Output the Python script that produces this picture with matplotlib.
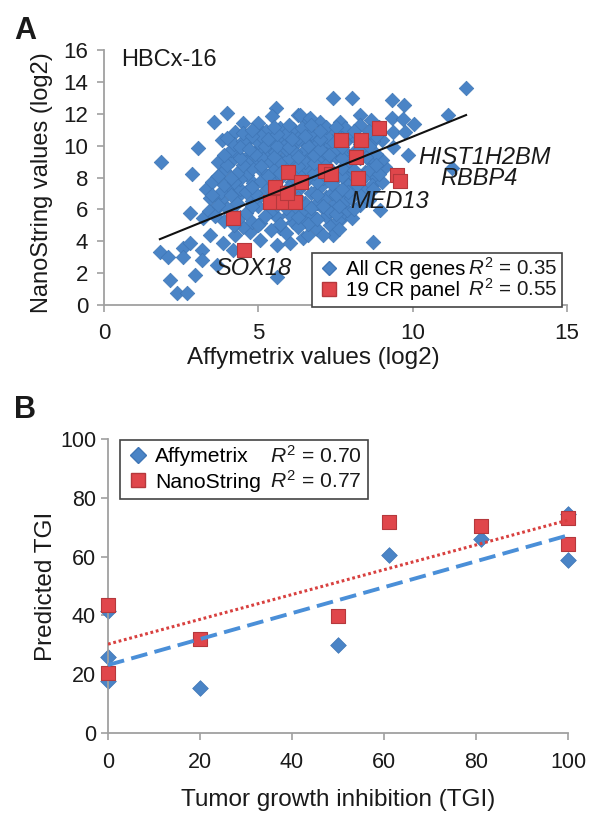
import numpy as np
import matplotlib
matplotlib.use('Agg')
import matplotlib.pyplot as plt
from matplotlib.lines import Line2D
from matplotlib.patches import Rectangle
from matplotlib.transforms import IdentityTransform

plt.rcParams['font.family'] = ['Liberation Sans', 'DejaVu Sans']
plt.rcParams['mathtext.fontset'] = 'custom'
plt.rcParams['mathtext.rm'] = 'Liberation Sans'
plt.rcParams['mathtext.it'] = 'Liberation Sans:italic'

# ---------------- Panel A data ----------------
# All CR genes (Affymetrix log2, NanoString log2) - scattered outer points
cr_affy_outer = [3.99, 5.57, 3.56, 4.49, 4.95, 5.25, 6.29, 5.43, 5.70, 6.13,
                 4.24, 3.81, 4.73, 5.65, 3.05, 4.14, 4.35, 4.73, 5.27, 5.54,
                 5.92, 6.51, 1.85, 2.84, 3.65, 4.08, 4.62, 4.95, 5.16, 5.38,
                 6.24, 6.46, 4.84, 6.35, 6.61, 7.00, 7.65, 6.35,
                 11.73, 7.43, 8.02, 9.34, 9.72, 11.15, 6.67, 8.29, 8.65, 9.32,
                 9.70, 10.05, 9.37, 9.75, 9.00, 9.37, 9.86, 8.45, 6.83, 7.16,
                 7.81, 6.73, 7.27, 8.67, 9.10, 8.45, 7.81, 8.78, 6.94, 8.67,
                 9.00, 11.26,
                 3.43, 4.08, 2.79, 3.22, 3.65, 1.81, 2.08, 2.57, 2.79, 3.16,
                 2.57, 3.16, 3.43, 3.86, 3.65, 2.14, 2.95, 2.36, 2.68, 5.59,
                 4.24, 4.73, 5.05, 5.59, 6.03, 6.46, 4.19, 5.05, 5.70, 6.13,
                 6.46,
                 6.62, 7.32, 7.43, 7.70, 7.05, 6.73, 7.59, 8.13, 8.72, 8.02,
                 7.54, 7.70, 7.48, 7.86, 7.59, 8.94]
cr_nano_outer = [12.06, 12.34, 11.50, 11.44, 11.19, 10.92, 11.92, 11.88, 11.09, 11.04,
                 10.83, 10.35, 10.46, 10.46, 9.83, 9.10, 9.41, 9.45, 9.72, 9.62,
                 9.41, 10.24, 8.95, 8.20, 8.05, 7.53, 8.16, 8.99, 8.36, 8.99,
                 8.99, 9.62, 7.63, 8.16, 11.61, 11.50, 11.50, 11.92,
                 13.59, 13.00, 13.00, 12.86, 12.55, 11.92, 11.71, 11.92, 11.61, 11.71,
                 11.67, 11.34, 10.87, 10.87, 10.35, 9.93, 9.41, 9.62, 10.46, 10.04,
                 9.62, 9.41, 9.20, 8.99, 8.68, 8.36, 7.95, 7.95, 8.16, 7.53,
                 7.74, 8.58,
                 6.69, 7.11, 5.75, 5.44, 6.07, 3.34, 3.03, 3.56, 3.87, 3.45,
                 3.03, 2.82, 4.39, 3.87, 2.51, 1.57, 1.88, 0.73, 0.73, 1.78,
                 4.39, 4.60, 4.08, 3.76, 3.87, 4.18, 3.45, 5.13, 4.81, 5.23,
                 5.44,
                 4.39, 5.02, 4.39, 5.44, 6.17, 5.65, 6.27, 7.11, 3.97, 5.44,
                 8.05, 7.21, 6.38, 5.96, 5.33, 5.96]
# All CR genes - dense core points (first set)
cr_affy_core = [4.5, 5.4, 5.9, 6.9, 7.1,
                3.9, 4.4, 4.8, 5.6, 6.0, 6.6, 7.2,
                3.4, 4.0, 4.6, 5.0, 5.4, 5.9, 6.4, 6.9, 7.3, 7.8, 8.3,
                3.8, 4.3, 4.8, 5.1, 5.7, 6.1, 6.5, 7.2, 8.0, 8.6,
                3.3, 3.8, 4.4, 4.9, 5.3, 6.3, 6.7, 7.0, 7.4, 7.9, 8.4,
                3.5, 4.4, 5.1, 5.7, 6.1, 6.6, 7.1, 7.4, 8.0, 8.3,
                3.9, 4.3, 4.8, 5.5, 5.9, 6.6, 7.0, 7.4, 7.9, 8.6,
                3.7, 4.6, 5.1, 5.7, 6.0, 6.5, 7.0, 7.5, 7.9, 8.3, 9.0,
                4.1, 5.0, 5.9, 6.2, 6.8, 7.2, 7.5, 8.1, 8.8,
                4.2, 4.5, 5.0, 5.4, 5.9, 6.3, 6.9, 7.4, 7.8, 8.3, 8.7,
                4.5, 5.1, 5.9, 6.3, 6.7, 7.2, 7.5, 8.0, 8.5,
                5.0, 6.0, 6.4, 7.2, 7.8, 8.3, 8.9]
cr_nano_core = [4.9, 4.7, 4.5, 4.8, 4.4,
                5.3, 5.5, 5.2, 5.5, 5.7, 5.1, 5.6,
                5.9, 6.1, 5.8, 6.2, 5.9, 6.1, 5.9, 6.4, 5.9, 6.5, 6.3,
                6.6, 6.8, 6.5, 6.9, 6.6, 6.8, 6.4, 6.8, 6.7, 6.6,
                7.3, 7.1, 7.3, 7.0, 7.4, 7.2, 7.0, 7.4, 7.0, 7.5, 7.2,
                7.7, 7.9, 7.8, 8.0, 7.7, 7.9, 8.0, 7.6, 8.3, 7.8,
                8.5, 8.3, 8.6, 8.5, 8.7, 8.5, 8.6, 8.4, 8.8, 8.5,
                9.0, 9.0, 9.3, 9.0, 9.2, 9.0, 9.1, 9.3, 9.0, 9.2, 9.1,
                9.7, 9.8, 9.8, 9.6, 9.7, 9.5, 9.8, 9.6, 9.5,
                10.1, 10.3, 10.2, 10.3, 10.1, 10.3, 10.1, 10.3, 10.2, 10.1, 10.3,
                10.8, 10.6, 10.7, 10.5, 10.8, 10.6, 10.9, 10.7, 10.6,
                11.4, 11.3, 11.1, 11.2, 11.1, 11.3, 11.2]
# All CR genes - dense core points (second set, in between)
cr_affy_core2 = [4.2, 5.0, 5.7, 6.3, 7.6,
                 3.6, 4.2, 5.2, 6.3, 6.9, 7.5,
                 3.7, 4.3, 4.8, 5.6, 6.2, 6.7, 7.1, 7.6, 8.1,
                 3.5, 4.1, 4.6, 5.4, 5.9, 6.3, 6.9, 7.5, 7.9, 8.3,
                 3.9, 4.2, 4.8, 5.5, 6.0, 6.4, 6.9, 7.7, 8.2, 8.7,
                 3.7, 4.1, 5.3, 5.7, 6.3, 6.8, 7.3, 7.7, 8.4, 8.9,
                 4.0, 4.5, 5.1, 6.3, 6.8, 7.2, 7.7, 8.1, 8.8,
                 3.9, 4.4, 4.9, 5.5, 6.3, 6.8, 7.3, 7.7, 8.5,
                 4.4, 4.7, 5.2, 5.6, 6.0, 6.6, 7.0, 7.7, 8.3, 8.6,
                 4.0, 4.8, 5.3, 5.6, 6.1, 6.5, 7.0, 7.7, 8.2, 8.8,
                 4.8, 5.5, 6.7, 7.0, 7.5, 8.1, 8.6]
cr_nano_core2 = [5.0, 5.0, 5.1, 4.9, 4.8,
                 5.6, 5.7, 5.6, 5.5, 5.4, 5.7,
                 6.3, 6.4, 6.2, 6.3, 6.2, 6.1, 6.2, 6.2, 6.0,
                 6.9, 6.9, 7.1, 6.8, 7.0, 6.7, 6.9, 6.9, 7.1, 6.9,
                 7.5, 7.7, 7.4, 7.6, 7.4, 7.6, 7.7, 7.3, 7.5, 7.3,
                 8.1, 8.0, 8.1, 8.3, 8.2, 8.3, 8.2, 8.1, 8.0, 8.2,
                 8.8, 8.8, 8.7, 8.7, 8.9, 8.8, 8.6, 8.5, 8.8,
                 9.4, 9.2, 9.5, 9.3, 9.3, 9.4, 9.4, 9.2, 9.3,
                 9.9, 9.8, 10.0, 10.0, 9.9, 10.0, 9.8, 9.9, 9.8, 10.0,
                 10.5, 10.6, 10.4, 10.7, 10.4, 10.6, 10.4, 10.5, 10.4, 10.6,
                 11.0, 11.2, 11.3, 10.9, 11.2, 10.9, 10.9]

# 19 CR panel genes
panel_affy = [5.97, 6.39, 5.54, 5.97, 5.38, 5.81, 6.19, 7.16, 7.37, 8.91,
              7.68, 8.31, 8.16, 8.22, 9.48, 9.59, 4.18, 4.54, 5.92]
panel_nano = [8.36, 7.73, 7.42, 7.00, 6.49, 6.49, 6.49, 8.41, 8.20, 11.12,
              10.35, 10.35, 9.28, 7.95, 8.16, 7.78, 5.44, 3.45, 7.05]

# trend line for all CR genes
trendA_slope = 0.785
trendA_intercept = 2.71

gene_names = ['HIST1H2BM', 'RBBP4', 'MED13', 'SOX18']
gene_label_x = [10.17, 10.88, 7.97, 3.60]
gene_label_y = [9.28, 7.95, 6.52, 2.26]

legendA_names = ['All CR genes', '19 CR panel']
legendA_stats = ['$R^2$ = 0.35', '$R^2$ = 0.55']

# ---------------- Panel B data ----------------
tgi_affy_x = [0, 0, 0, 20, 50, 61, 81, 100, 100]
tgi_affy_y = [17.6, 25.8, 41.5, 15.3, 29.9, 60.5, 65.9, 58.8, 74.5]
tgi_nano_x = [0, 0, 20, 50, 61, 81, 100, 100]
tgi_nano_y = [43.7, 20.5, 32.1, 39.8, 71.6, 70.4, 73.1, 64.4]
legendB_names = ['Affymetrix', 'NanoString']
legendB_stats = ['$R^2$ = 0.70', '$R^2$ = 0.77']

# ---------------- Styles ----------------
BLUE = '#4A84C6'
BLUE_EDGE = '#3F76B6'
RED = '#E0464B'
RED_EDGE = '#B5383C'
AXIS_GRAY = '#A0A0A0'
TXT = '#1A1A1A'

fig = plt.figure(figsize=(5.9, 8.14), dpi=100)


def style_axes(ax, ypad, xpad, size):
    for s in ['top', 'right']:
        ax.spines[s].set_visible(False)
    for s in ['left', 'bottom']:
        ax.spines[s].set_color(AXIS_GRAY)
        ax.spines[s].set_linewidth(1.3)
    ax.tick_params(axis='both', direction='out', length=5, width=1.2,
                   color=AXIS_GRAY, labelsize=size, labelcolor=TXT)
    ax.tick_params(axis='y', pad=ypad)
    ax.tick_params(axis='x', pad=xpad)


def two_col_legend(ax, handles, names, stats, fs, anchor, gap_px, rpad_px, lspace):
    leg = ax.legend(handles, names, loc='upper left', bbox_to_anchor=anchor,
                    frameon=False, fontsize=fs, borderpad=0.35,
                    labelspacing=lspace, handletextpad=0.3, handlelength=1.0,
                    borderaxespad=0.0)
    leg.set_zorder(7)
    fig.canvas.draw()
    r = fig.canvas.get_renderer()
    lb = leg.get_window_extent(r)
    texts = leg.get_texts()
    xr = max(t.get_window_extent(r).x1 for t in texts) + gap_px
    right = xr
    for t, s in zip(texts, stats):
        x0, y0 = t.get_transform().transform(t.get_position())
        st = ax.text(xr, y0, s, transform=IdentityTransform(), fontsize=fs,
                     ha='left', va='baseline', color=TXT, zorder=8, clip_on=False)
        right = max(right, st.get_window_extent(r).x1)
    rect = Rectangle((lb.x0, lb.y0), right + rpad_px - lb.x0, lb.height,
                     transform=IdentityTransform(), facecolor='white',
                     edgecolor='#444444', lw=1.2, zorder=6, clip_on=False)
    ax.add_patch(rect)


# ---------------- Panel A ----------------
axA = fig.add_axes([104/590, 1-305/814, 463/590, 255/814])
style_axes(axA, ypad=6.5, xpad=8, size=16)
allx = np.array(cr_affy_outer + cr_affy_core + cr_affy_core2)
ally = np.array(cr_nano_outer + cr_nano_core + cr_nano_core2)
axA.scatter(allx, ally, marker='D', s=55, facecolor=BLUE, edgecolor=BLUE_EDGE,
            linewidth=0.5, zorder=2)
axA.scatter(panel_affy, panel_nano, marker='s', s=100, facecolor=RED,
            edgecolor=RED_EDGE, linewidth=0.8, zorder=3)
tx = np.array([allx.min(), allx.max()])
axA.plot(tx, trendA_slope*tx + trendA_intercept, color='#111111', lw=1.5, zorder=4)

axA.set_xlim(0, 15)
axA.set_ylim(0, 16)
axA.set_xticks([0, 5, 10, 15])
axA.set_yticks(np.arange(0, 17, 2))
axA.set_xlabel('Affymetrix values (log2)', fontsize=17.5, color=TXT)
axA.set_ylabel('NanoString values (log2)', fontsize=17, color=TXT)
axA.xaxis.set_label_coords(0.451, -0.163)
axA.yaxis.set_label_coords(-0.11, 0.48)
axA.text(0.037, 0.961, 'HBCx-16', transform=axA.transAxes, fontsize=17,
         color=TXT, ha='left', va='center')
for name, gx, gy in zip(gene_names, gene_label_x, gene_label_y):
    axA.text(gx, gy, name, fontsize=17, style='italic', color=TXT,
             ha='left', va='center', zorder=5)

hA = [Line2D([], [], marker='D', ls='none', markerfacecolor=BLUE,
             markeredgecolor=BLUE_EDGE, markersize=7.5),
      Line2D([], [], marker='s', ls='none', markerfacecolor=RED,
             markeredgecolor=RED_EDGE, markersize=10)]
two_col_legend(axA, hA, legendA_names, legendA_stats, 14.8,
               ((312-104)/463, (305-253)/255), 3, 5, 0.1)

fig.text(25/590, 1-31/814, 'A', fontsize=22, fontweight='bold', ha='center',
         va='center', color=TXT)

# ---------------- Panel B ----------------
axB = fig.add_axes([108/590, 1-733/814, 460/590, 294/814])
style_axes(axB, ypad=3.6, xpad=8.6, size=15.5)
axB.scatter(tgi_affy_x, tgi_affy_y, marker='D', s=64, facecolor=BLUE,
            edgecolor=BLUE_EDGE, linewidth=0.5, zorder=2, clip_on=False)
axB.scatter(tgi_nano_x, tgi_nano_y, marker='s', s=105, facecolor=RED,
            edgecolor=RED_EDGE, linewidth=0.8, zorder=3, clip_on=False)
xs = np.array([0, 100])
pa = np.polyfit(tgi_affy_x, tgi_affy_y, 1)
pn = np.polyfit(tgi_nano_x, tgi_nano_y, 1)
axB.plot(xs, np.polyval(pa, xs), color='#4A8FD8', lw=2.8, dashes=(4.3, 1.9),
         zorder=4)
axB.plot(xs, np.polyval(pn, xs), color='#D8403F', lw=2.2, dashes=(0.9, 0.9),
         zorder=5)
axB.set_xlim(0, 100)
axB.set_ylim(0, 100)
axB.set_xticks(np.arange(0, 101, 20))
axB.set_yticks(np.arange(0, 101, 20))
axB.set_xlabel('Tumor growth inhibition (TGI)', fontsize=17.5, color=TXT)
axB.set_ylabel('Predicted TGI', fontsize=17.5, color=TXT)
axB.xaxis.set_label_coords(0.5, -0.19)
axB.yaxis.set_label_coords(-0.11, 0.5)

hB = [Line2D([], [], marker='D', ls='none', markerfacecolor=BLUE,
             markeredgecolor=BLUE_EDGE, markersize=8),
      Line2D([], [], marker='s', ls='none', markerfacecolor=RED,
             markeredgecolor=RED_EDGE, markersize=10)]
two_col_legend(axB, hB, legendB_names, legendB_stats, 15.2,
               ((120-108)/460, (733-440)/294), 9, 7, 0.3)

fig.text(25/590, 1-410/814, 'B', fontsize=22, fontweight='bold', ha='center',
         va='center', color=TXT)

fig.savefig('out.png', dpi=100)
